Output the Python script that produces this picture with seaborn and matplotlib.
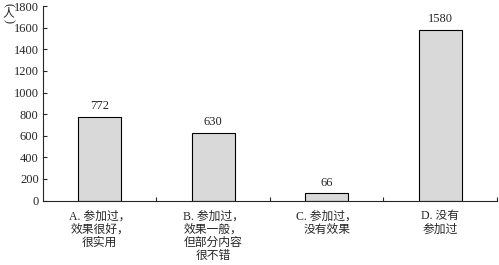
import pandas as pd
import matplotlib.pyplot as plt
from matplotlib.ticker import FixedLocator
import seaborn as sns

# categories and counts
categories = ['A. 参加过，\n效果很好，\n很实用',
              'B. 参加过，\n效果一般，\n但部分内容\n很不错',
              'C. 参加过，\n没有效果',
              'D. 没有\n参加过']
counts = [772, 630, 66, 1580]
yticks = [0, 200, 400, 600, 800, 1000, 1200, 1400, 1600, 1800]

df = pd.DataFrame({'cat': categories, 'n': counts})

sns.set_style('ticks')
plt.rcParams['font.family'] = ['Liberation Serif', 'Noto Sans CJK SC', 'DejaVu Sans']
plt.rcParams['font.size'] = 8.5

fig = plt.figure(figsize=(4.99, 2.65), dpi=100)
ax = fig.add_axes([0.086, 0.243, 0.91, 0.734])
sns.barplot(data=df, x='cat', y='n', color='#d9d9d9', edgecolor='black',
            linewidth=0.8, width=0.38, saturation=1, ax=ax)

for i, v in enumerate(counts):
    ax.annotate(str(v), (i, v), xytext=(0, 3.5), textcoords='offset points',
                ha='center', va='bottom', fontsize=9)

ax.set_xlim(-0.5, 3.5)
ax.set_ylim(0, 1800)
ax.set_yticks(yticks)
ax.set_xlabel('')
ax.set_ylabel('')
ax.xaxis.set_minor_locator(FixedLocator([0.5, 1.5, 2.5, 3.5]))
ax.tick_params(axis='x', which='major', length=0, pad=7, labelsize=8.5)
ax.tick_params(axis='x', which='minor', direction='in', length=3, width=0.8)
ax.tick_params(axis='y', direction='in', length=3, width=0.8, pad=3, labelsize=9)
for lab in ax.get_xticklabels():
    lab.set_linespacing(1.15)
sns.despine(ax=ax)
for s in ['left', 'bottom']:
    ax.spines[s].set_linewidth(0.8)

# vertical unit label: (人) stacked top to bottom, parens turned
fig.text(0.017, 0.982, '(', ha='center', va='center', rotation=-90, fontsize=9)
fig.text(0.017, 0.952, '人', ha='center', va='center', fontsize=8.5)
fig.text(0.017, 0.920, ')', ha='center', va='center', rotation=-90, fontsize=9)

fig.savefig('out.png', dpi=100)
